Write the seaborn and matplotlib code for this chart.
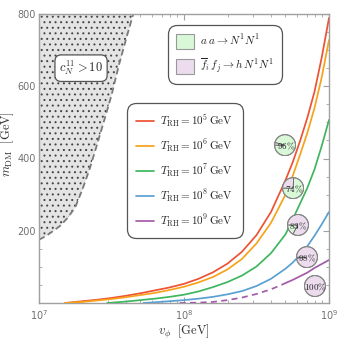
import numpy as np
import pandas as pd
import seaborn as sns
import matplotlib.pyplot as plt
from matplotlib.patches import Patch
from matplotlib.lines import Line2D
from matplotlib.ticker import MultipleLocator, LogLocator, NullFormatter

# curves m_DM(v_phi) for each reheating temperature
# (x given as log10 of v_phi / GeV)
t_rh_exp = [5, 6, 7, 8, 9]
line_colors = ['#ec5234', '#f7a21b', '#3eb65e', '#5aa0d2', '#a35ba9']

lv_t5 = [7.18, 7.3, 7.4, 7.5, 7.6, 7.7, 7.8, 7.9, 8.0, 8.1, 8.2, 8.3, 8.4, 8.5, 8.6,
         8.7, 8.75, 8.8, 8.85, 8.9, 8.95, 9.0]
m_t5 = [0, 5, 9, 14, 20, 27, 35, 43, 53, 67, 85, 109, 142, 188, 252,
        340, 390, 448, 512, 585, 680, 789]

lv_t6 = [7.18, 7.3, 7.4, 7.5, 7.6, 7.7, 7.8, 7.9, 8.0, 8.1, 8.2, 8.3, 8.4, 8.5, 8.6,
         8.7, 8.75, 8.8, 8.85, 8.9, 8.95, 9.0]
m_t6 = [0, 3, 7, 11, 16, 22, 28, 36, 45, 57, 72, 93, 122, 165, 222,
        300, 352, 410, 470, 540, 625, 728]

lv_t7 = [7.47, 7.6, 7.7, 7.8, 7.9, 8.0, 8.1, 8.2, 8.3, 8.4, 8.5, 8.6, 8.7, 8.75,
         8.8, 8.85, 8.9, 8.95, 9.0]
m_t7 = [0, 4, 8, 12, 17, 23, 32, 44, 58, 76, 101, 138, 190, 232,
        275, 318, 370, 435, 507]

lv_t8 = [7.72, 7.8, 7.9, 8.0, 8.1, 8.2, 8.3, 8.4, 8.5, 8.6, 8.7, 8.75, 8.8, 8.85,
         8.9, 8.95, 9.0]
m_t8 = [0, 2, 5, 8, 12, 17, 24, 33, 47, 67, 95, 112, 133, 157, 186, 218, 252]

# T_RH = 1e9: dashed part then solid part
lv_t9_dash = [7.97, 8.1, 8.2, 8.3, 8.4, 8.5, 8.6, 8.66, 8.71]
m_t9_dash = [0, 1, 3, 8, 15, 25, 38, 48, 57]
lv_t9 = [8.71, 8.75, 8.8, 8.85, 8.9, 8.95, 9.0]
m_t9 = [57, 64, 74, 84, 97, 108, 119]

# excluded region boundary (c_N^11 > 10)
lv_excl = [7.0, 7.05, 7.1, 7.15, 7.2, 7.25, 7.3, 7.35, 7.4, 7.45, 7.5, 7.55, 7.6, 7.65]
m_excl = [175, 186, 200, 215, 237, 265, 315, 372, 438, 506, 575, 657, 730, 800]

# pie charts: share of a a -> N N channel, and printed labels
pie_lv = [8.697, 8.752, 8.786, 8.848, 8.903]
pie_m = [437, 318, 216, 127, 47]
pie_aa_frac = [0.96, 0.74, 0.17, 0.02, 0.0]
pie_labels = ['96%', '74%', '83%', '98%', '100%']

green_fill = '#d8f8d8'
purple_fill = '#ecdcee'

sns.set_style('ticks')
plt.rcParams['font.family'] = ['DejaVu Sans']
plt.rcParams['mathtext.fontset'] = 'cm'
plt.rcParams['hatch.linewidth'] = 0.7
plt.rcParams['hatch.color'] = '#444444'

fig = plt.figure(figsize=(3.38, 3.42), dpi=100)
ax = fig.add_axes([39/338, 1 - 303/342, 290/338, 289/342])

# excluded region
v_excl = 10 ** np.array(lv_excl)
ax.fill_betweenx(m_excl, 1e7, v_excl, facecolor='#e4e4e4', edgecolor='#444444',
                 hatch='...', linewidth=0, zorder=1)
ax.plot(v_excl, m_excl, color='#7a7a7a', ls=(0, (3.5, 2)), lw=1.3, zorder=2)

curves = [(lv_t5, m_t5), (lv_t6, m_t6), (lv_t7, m_t7), (lv_t8, m_t8), (lv_t9, m_t9)]
for (lv, mm), c in zip(curves, line_colors):
    df = pd.DataFrame({'v': 10 ** np.array(lv), 'm': mm})
    sns.lineplot(data=df, x='v', y='m', color=c, lw=1.25, ax=ax, sort=False,
                 estimator=None, zorder=3)
df9 = pd.DataFrame({'v': 10 ** np.array(lv_t9_dash), 'm': m_t9_dash})
sns.lineplot(data=df9, x='v', y='m', color=line_colors[4], lw=1.25, ax=ax,
             sort=False, estimator=None, zorder=3)
ax.lines[-1].set_linestyle((0, (3.5, 2.5)))

ax.set_xscale('log')
ax.set_xlim(1e7, 1e9)
ax.set_ylim(0, 800)
ax.set_yticks([200, 400, 600, 800])
ax.yaxis.set_minor_locator(MultipleLocator(50))
ax.xaxis.set_major_locator(LogLocator(base=10, numticks=5))
ax.xaxis.set_minor_locator(LogLocator(base=10, subs=np.arange(2, 10), numticks=20))
ax.xaxis.set_minor_formatter(NullFormatter())

for s in ax.spines.values():
    s.set_color('#a0a0a0')
    s.set_linewidth(1.0)
ax.tick_params(which='both', direction='in', top=True, right=True, color='#a0a0a0',
               labelcolor='#707070', labelsize=7)
ax.tick_params(which='major', length=4, width=0.8)
ax.tick_params(which='minor', length=2, width=0.6)
ax.tick_params(axis='x', pad=4)
ax.tick_params(axis='y', pad=2)

ax.set_xlabel(r'$v_\phi\ \ [{\rm GeV}]$', fontsize=9, color='#333333')
ax.set_ylabel(r'$m_{\rm DM}\ \ [{\rm GeV}]$', fontsize=9, color='#333333')
ax.xaxis.set_label_coords(0.5, -0.07)
ax.yaxis.set_label_coords(-0.078, 0.55)

ax.text(10 ** 7.29, 650, r'$c_N^{11} > 10$', fontsize=9, ha='center', va='center', zorder=5,
        bbox=dict(boxstyle='round,pad=0.33,rounding_size=0.5', fc='white', ec='#555555', lw=0.9))

# legend for the curves
handles = [Line2D([], [], color=c, lw=1.25) for c in line_colors]
labels = [r'$T_{\rm RH} = 10^{%d}\,{\rm GeV}$' % e for e in t_rh_exp]
leg1 = ax.legend(handles, labels, loc='upper left', bbox_to_anchor=(0.303, 0.692),
                 borderaxespad=0, fontsize=8, labelspacing=0.75, handlelength=1.55,
                 handletextpad=0.6, borderpad=0.85, fancybox=True, framealpha=1,
                 edgecolor='#555555')
leg1.get_frame().set_boxstyle('round,pad=0,rounding_size=0.8')
leg1.get_frame().set_linewidth(0.9)
ax.add_artist(leg1)

# legend for the channels
phandles = [Patch(fc=green_fill, ec='#999999', lw=0.8), Patch(fc=purple_fill, ec='#999999', lw=0.8)]
plabels = [r'$a\;a \to N^1 N^1$', r'$\overline{f}_i\, f_j \to h\, N^1 N^1$']
leg2 = ax.legend(phandles, plabels, loc='upper left', bbox_to_anchor=(0.445, 0.962),
                 borderaxespad=0, fontsize=8, labelspacing=0.75, handlelength=1.6,
                 handleheight=1.6, handletextpad=0.6, borderpad=0.7, fancybox=True,
                 framealpha=1, edgecolor='#555555')
leg2.get_frame().set_boxstyle('round,pad=0,rounding_size=0.8')
leg2.get_frame().set_linewidth(0.9)

# pie charts
pw, ph = 22/290, 22/289
for lv, m, fa, lab in zip(pie_lv, pie_m, pie_aa_frac, pie_labels):
    fx = (lv - 7) / 2
    fy = m / 800
    pax = ax.inset_axes([fx - pw/2, fy - ph/2, pw, ph], zorder=6)
    vals = [fa, 1 - fa]
    cols = [green_fill, purple_fill]
    vals_k = [x for x in vals if x > 0]
    cols_k = [c for x, c in zip(vals, cols) if x > 0]
    pax.pie(vals_k, colors=cols_k, startangle=180, counterclock=True,
            wedgeprops=dict(edgecolor='#666666', linewidth=0.6))
    pax.add_patch(plt.Circle((0, 0), 1, fill=False, ec='#888888', lw=0.8))
    pax.set_xlim(-1.05, 1.05)
    pax.set_ylim(-1.05, 1.05)
    pax.set_aspect('equal')
    pax.axis('off')
    pax.text(0.05, -0.12, '$' + lab.replace('%', r'\%') + '$', fontsize=6.5,
             ha='center', va='center', color='#222222')

fig.savefig('out.png', dpi=100)
